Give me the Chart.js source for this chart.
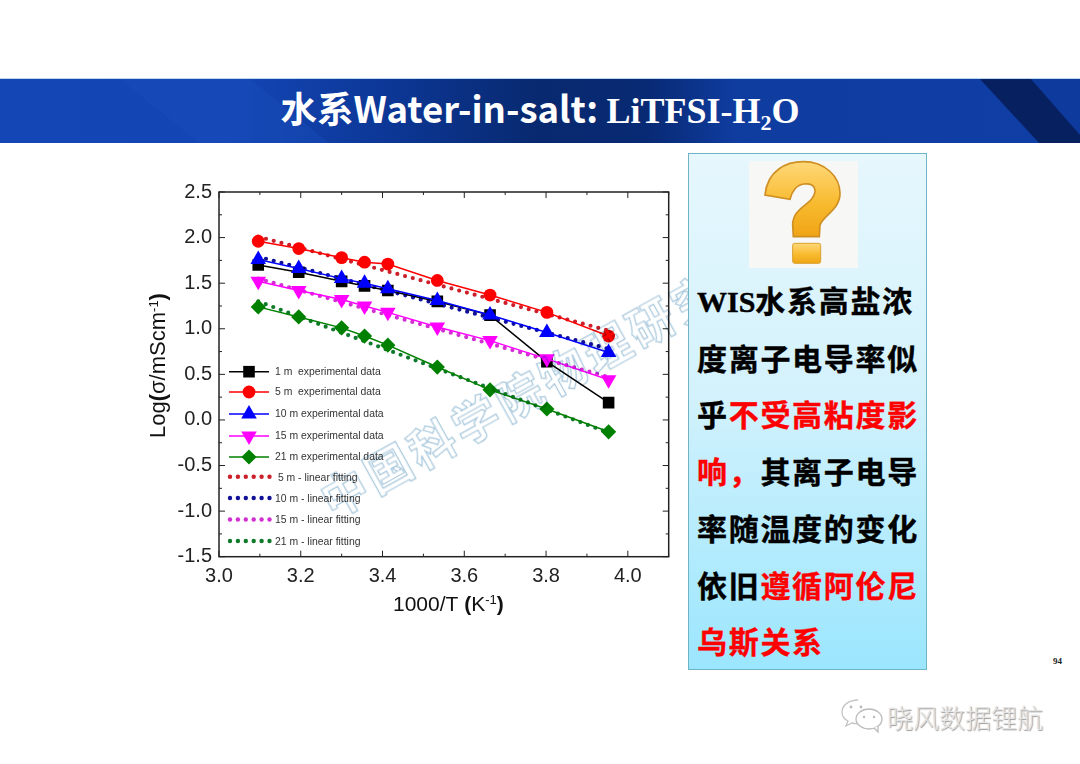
<!DOCTYPE html>
<html>
<head>
<meta charset="utf-8">
<title>LiTFSI-H2O</title>
<script src="https://cdn.jsdelivr.net/npm/chart.js@4"></script>
<style>
html, body { margin: 0; padding: 0; background: #fff; }
#page { position: relative; width: 1080px; height: 764px; overflow: hidden; background: #fff; }
#banner { position: absolute; left: 0; top: 78px; width: 1080px; height: 65px; border-top: 1px solid #bcd6ee; box-sizing: border-box;
  background: linear-gradient(90deg, #1446b6 0%, #1345b4 22%, #0c3796 36%, #08296f 50%, #082a74 60%, #0f3c9f 68%, #0f3ea6 100%); overflow: hidden; }
#banner div { position: absolute; left: 0; top: 0; width: 1080px; height: 65px; }
#band { background: #07205f; clip-path: polygon(980px 0, 1031px 0, 1080px 56px, 1080px 65px, 1040px 65px); }
#wedge { background: linear-gradient(90deg, #0f3ea6, #0d3a9c); clip-path: polygon(1031px 0, 1080px 0, 1080px 56px); }
#wedge2 { background: rgba(30,80,190,.35); clip-path: polygon(120px 0, 250px 0, 330px 65px, 200px 65px); }
#title { position: absolute; left: 0; top: 81px; width: 1080px; text-align: center; color: #fff; white-space: nowrap; line-height: 58px; }
#title .a { font: bold 36.5px "Noto Sans CJK SC"; }
#title .b { font: bold 36px "Liberation Serif"; }
#title sub { font-size: 22px; vertical-align: -7px; line-height: 0; }
#holder { position: absolute; left: 140px; top: 170px; width: 540px; height: 450px; }
#stamp { position: absolute; left: 320px; top: 462px; width: 520px; height: 56px; white-space: nowrap; transform-origin: 23px 28px; transform: rotate(-29deg);
  font: bold 46px/56px "Noto Sans CJK SC"; letter-spacing: 4px; color: transparent; -webkit-text-stroke: 1.2px #a9c8dc; mix-blend-mode: multiply; }
#panel { position: absolute; left: 688px; top: 153px; width: 237px; height: 515px; border: 1px solid #6fb4c4;
  background: linear-gradient(180deg, #e6f7fd 0%, #d4f2fc 45%, #9be6fe 100%); }
#qback { position: absolute; left: 60px; top: 7px; width: 109px; height: 107px; background: #f7f7f6; }
#qmark { position: absolute; left: 680px; top: 150px; }
.ln { position: absolute; left: 8px; white-space: nowrap; font: bold 30px/40px "Noto Sans CJK SC"; letter-spacing: 1.7px; color: #000; -webkit-text-stroke: .4px currentColor; }
.ln .s { font-family: "Liberation Serif"; letter-spacing: 0; }
.ln .r { color: #f00; }
#num { position: absolute; left: 1053px; top: 656px; font: bold 9px "Liberation Serif"; color: #222; }
#mark { position: absolute; left: 887px; top: 699px; font: 26px/36px "Noto Sans CJK SC"; font-weight: 300; color: #e4e4e4; text-shadow: 1px 1px 1px #999; white-space: nowrap; }
#bubbles { position: absolute; left: 838px; top: 698px; }
</style>
</head>
<body>
<div id="page">
  <div id="banner"><div id="wedge2"></div><div id="wedge"></div><div id="band"></div></div>
  <div id="title"><span class="a">水系Water-in-salt: </span><span class="b">LiTFSI-H<sub>2</sub>O</span></div>
  <div id="holder"><canvas id="myChart" width="540" height="450"></canvas></div>
  <div id="stamp">中国科学院物理研究所</div>
  <div id="panel">
    <div id="qback"></div>
    <div class="ln" style="top:125px"><span class="s">WIS</span>水系高盐浓</div>
    <div class="ln" style="top:183px">度离子电导率似</div>
    <div class="ln" style="top:239px">乎<span class="r">不受高粘度影</span></div>
    <div class="ln" style="top:296px"><span class="r">响，</span>其离子电导</div>
    <div class="ln" style="top:353px">率随温度的变化</div>
    <div class="ln" style="top:410px">依旧<span class="r">遵循阿伦尼</span></div>
    <div class="ln" style="top:466px"><span class="r">乌斯关系</span></div>
  </div>
  <svg id="qmark" width="255" height="150" viewBox="0 0 765 450">
    <defs><linearGradient id="qg" x1="0" y1="0" x2="0" y2="1">
      <stop offset="0" stop-color="#ffd878"/><stop offset="0.55" stop-color="#f8bb30"/><stop offset="1" stop-color="#f0a415"/>
    </linearGradient></defs>
    <path d="M255 135 C262 60 320 35 370 35 C435 35 480 80 480 130 C480 180 430 195 420 225 L418 260 L340 260 L338 225 C338 170 400 165 405 125 C405 105 390 100 372 102 C350 104 335 125 330 148 Z" fill="url(#qg)" stroke="#cf8f22" stroke-width="5"/>
    <rect x="338" y="280" width="84" height="60" rx="6" fill="url(#qg)" stroke="#d9a02c" stroke-width="3"/>
  </svg>
  <div id="num">94</div>
  <svg id="bubbles" width="48" height="36" viewBox="0 0 48 36">
    <path d="M20 2c-9 0-16 5-16 12 0 4 2 7 6 9l-2 5 6-3c2 .5 4 .7 6 .6" fill="#fff" stroke="#c4c4c4" stroke-width="1.3"/>
    <ellipse cx="31" cy="21" rx="13" ry="10" fill="#fff" stroke="#bbb" stroke-width="1.3"/>
    <path d="M36 30l4 4 0-6" fill="#fff" stroke="#bbb" stroke-width="1.3"/>
    <circle cx="13" cy="9" r="1.4" fill="#bbb"/><circle cx="23" cy="9" r="1.4" fill="#bbb"/>
    <circle cx="26" cy="19" r="1.2" fill="#bbb"/><circle cx="36" cy="19" r="1.2" fill="#bbb"/>
  </svg>
  <div id="mark">晓风数据锂航</div>
</div>
<script>
var invT = [3.096, 3.195, 3.30, 3.356, 3.413, 3.534, 3.663, 3.802, 3.953];

var m1 = [1.70, 1.62, 1.52, 1.47, 1.42, 1.30, 1.15, 0.64, 0.19];
var m5 = [1.96, 1.88, 1.78, 1.73, 1.71, 1.53, 1.37, 1.18, 0.92];
var m10 = [1.76, 1.66, 1.55, 1.50, 1.44, 1.31, 1.15, 0.96, 0.74];
var m15 = [1.52, 1.42, 1.32, 1.25, 1.18, 1.02, 0.87, 0.67, 0.44];
var m21 = [1.24, 1.13, 1.01, 0.92, 0.82, 0.58, 0.33, 0.12, -0.13];

// fitted lines, only the two ends
var fitT = [3.096, 3.953];
var fit5 = [2.01, 0.98];
var fit10 = [1.79, 0.78];
var fit15 = [1.55, 0.47];
var fit21 = [1.30, -0.14];

var xTicks = [3.0, 3.2, 3.4, 3.6, 3.8, 4.0];
var xMinor = [3.1, 3.3, 3.5, 3.7, 3.9, 4.1];
var yTicks = [-1.5, -1.0, -0.5, 0.0, 0.5, 1.0, 1.5, 2.0, 2.5];
var yMinor = [-1.25, -0.75, -0.25, 0.25, 0.75, 1.25, 1.75, 2.25];

var expLabels = ["1 m  experimental data", "5 m  experimental data", "10 m experimental data", "15 m experimental data", "21 m experimental data"];
var fitLabels = [" 5 m - linear fitting", "10 m - linear fitting", "15 m - linear fitting", "21 m - linear fitting"];

function pts(xs, ys) {
    return xs.map(function (x, i) { return { x: x, y: ys[i] }; });
}

function expSet(vals, s, order) {
    return {
        data: pts(invT, vals),
        borderColor: s[0],
        backgroundColor: s[0],
        borderWidth: 1.5,
        pointStyle: s[1],
        pointRadius: s[2],
        pointRotation: s[3],
        pointBorderWidth: 0,
        order: order
    };
}

function fitSet(vals, color, order) {
    return {
        data: pts(fitT, vals),
        borderColor: color,
        borderWidth: 4.2,
        borderDash: [0, 8],
        borderCapStyle: "round",
        pointRadius: 0,
        order: order
    };
}

var expStyle = [
    ["#000000", "rect", 8.2, 0],
    ["#ff0000", "circle", 6.4, 0],
    ["#0000ff", "triangle", 9, 0],
    ["#ff00ff", "triangle", 9, 180],
    ["#008000", "rectRot", 7.6, 0]
];
var fitColor = ["#cc1f2a", "#10109a", "#d22fd2", "#107a2c"];

// text in runs, so the brackets can be bold and the -1 raised
var xTitle = [["1000/T ", 21, 0, ""], ["(", 21, 0, "bold "], ["K", 21, 0, ""], ["-1", 13, -7, ""], [")", 21, 0, "bold "]];
var yTitle = [["Log", 22, 0, ""], ["(", 22, 0, "bold "], ["σ/mScm", 22, 0, ""], ["-1", 13, -7, ""], [")", 22, 0, "bold "]];

function drawRuns(c, runs, x, y) {
    runs.forEach(function (r) {
        c.font = r[3] + r[1] + 'px "Liberation Sans"';
        c.fillText(r[0], x, y + r[2]);
        x += c.measureText(r[0]).width;
    });
}

// frame, inward ticks, axis titles and the legend
var framePlugin = {
    id: "frame",
    afterDraw: function (chart) {
        var c = chart.ctx, a = chart.chartArea, sx = chart.scales.x, sy = chart.scales.y;
        c.save();
        c.strokeStyle = "#222";
        c.lineWidth = 1.5;
        c.strokeRect(a.left, a.top, a.right - a.left, a.bottom - a.top);
        function tickX(v, len) {
            var p = sx.getPixelForValue(v);
            c.beginPath();
            c.moveTo(p, a.bottom); c.lineTo(p, a.bottom - len);
            c.moveTo(p, a.top); c.lineTo(p, a.top + len);
            c.stroke();
        }
        function tickY(v, len) {
            var p = sy.getPixelForValue(v);
            c.beginPath();
            c.moveTo(a.left, p); c.lineTo(a.left + len, p);
            c.moveTo(a.right, p); c.lineTo(a.right - len, p);
            c.stroke();
        }
        c.lineWidth = 1;
        xTicks.forEach(function (v) { tickX(v, 6); });
        xMinor.forEach(function (v) { tickX(v, 3); });
        yTicks.forEach(function (v) { tickY(v, 6); });
        yMinor.forEach(function (v) { tickY(v, 3); });

        // canvas sits at 140,170 on the page
        c.fillStyle = "#111";
        c.textBaseline = "alphabetic";
        drawRuns(c, xTitle, 253, 441);
        c.save();
        c.translate(25, 268);
        c.rotate(-Math.PI / 2);
        drawRuns(c, yTitle, 0, 0);
        c.restore();

        var rows = [201.7, 222, 244, 266, 287];
        var fitRows = [306.7, 328, 349.5, 371];
        c.textBaseline = "middle";
        expLabels.forEach(function (t, i) {
            var s = expStyle[i], y = rows[i];
            c.strokeStyle = s[0];
            c.lineWidth = 1.5;
            c.beginPath(); c.moveTo(89, y); c.lineTo(129, y); c.stroke();
            c.fillStyle = s[0];
            Chart.helpers.drawPoint(c, { pointStyle: s[1], radius: s[2], rotation: s[3], borderWidth: 0 }, 109, y);
            c.fillStyle = "#333";
            c.font = '10.4px "Liberation Sans"';
            c.fillText(t, 135, y);
        });
        fitLabels.forEach(function (t, i) {
            var y = fitRows[i];
            c.fillStyle = fitColor[i];
            for (var k = 0; k < 6; k++) {
                c.beginPath(); c.arc(90 + k * 7.9, y, 2.2, 0, Math.PI * 2); c.fill();
            }
            c.fillStyle = "#333";
            c.font = '10.4px "Liberation Sans"';
            c.fillText(t, 135, y + 1);
        });
        c.restore();
    }
};

var myChart = document.getElementById("myChart").getContext("2d");

var chart = new Chart(myChart, {
    type: "line",
    data: {
        datasets: [
            expSet(m21, expStyle[4], 1),
            expSet(m15, expStyle[3], 2),
            expSet(m10, expStyle[2], 3),
            expSet(m5, expStyle[1], 4),
            expSet(m1, expStyle[0], 5),
            fitSet(fit5, fitColor[0], 6),
            fitSet(fit10, fitColor[1], 7),
            fitSet(fit15, fitColor[2], 8),
            fitSet(fit21, fitColor[3], 9)
        ]
    },
    options: {
        responsive: false,
        animation: false,
        layout: { padding: { top: 22, right: 11.3, left: 0, bottom: 0 } },
        plugins: { legend: { display: false }, tooltip: { enabled: false } },
        scales: {
            x: {
                type: "linear",
                min: 3.0,
                max: 4.1,
                grid: { display: false, drawTicks: false },
                border: { display: false },
                afterBuildTicks: function (s) { s.ticks = xTicks.map(function (v) { return { value: v }; }); },
                afterFit: function (s) { s.height = 63.3; },
                ticks: {
                    autoSkip: false,
                    maxRotation: 0,
                    padding: 8,
                    color: "#222",
                    font: { family: "Liberation Sans", size: 20 },
                    callback: function (v) { return Number(v).toFixed(1); }
                }
            },
            y: {
                min: -1.5,
                max: 2.5,
                grid: { display: false, drawTicks: false },
                border: { display: false },
                afterBuildTicks: function (s) { s.ticks = yTicks.map(function (v) { return { value: v }; }); },
                afterFit: function (s) { s.width = 79; },
                ticks: {
                    autoSkip: false,
                    padding: 7,
                    color: "#222",
                    font: { family: "Liberation Sans", size: 20 },
                    callback: function (v) { return Number(v).toFixed(1); }
                }
            }
        }
    },
    plugins: [framePlugin]
});
</script>
</body>
</html>
